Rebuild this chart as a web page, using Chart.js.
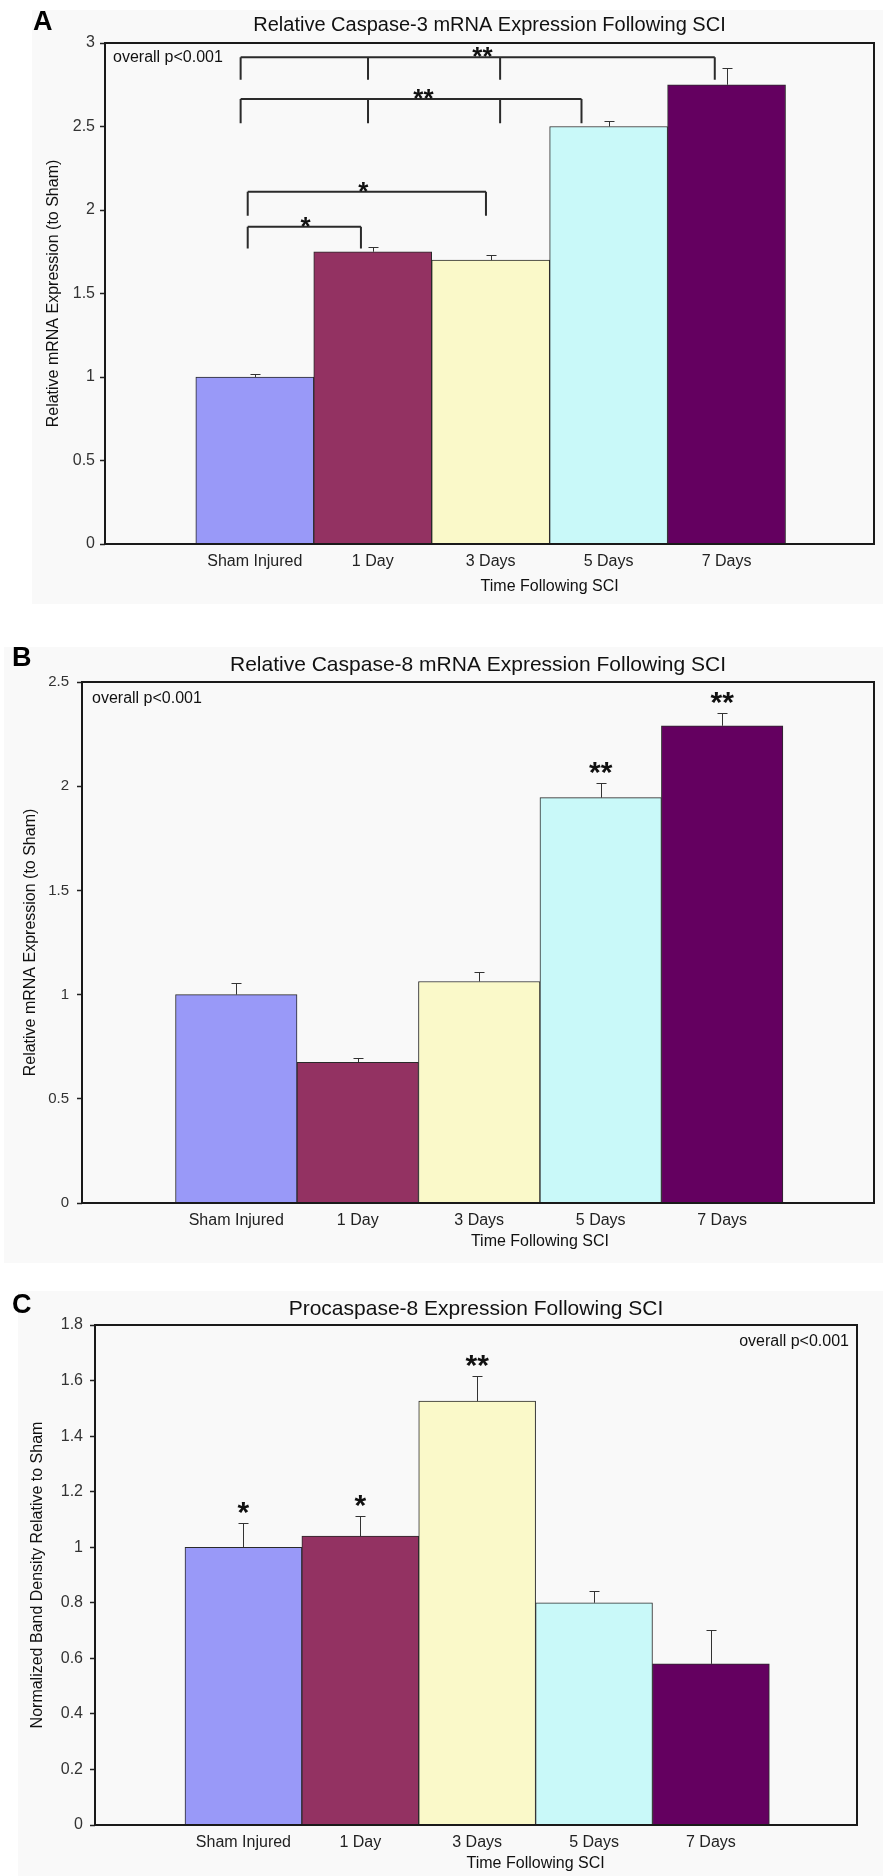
<!DOCTYPE html>
<html>
<head>
<meta charset="utf-8">
<script src="https://cdn.jsdelivr.net/npm/chart.js@4.4.1/dist/chart.umd.min.js"></script>
<style>
  body { margin: 0; background: #fff; width: 883px; height: 1876px; position: relative; overflow: hidden; }
  .panel { position: absolute; background: #f9f9f9; }
  .tag { position: absolute; font-family: "Liberation Sans", Arial, sans-serif; font-weight: bold; font-size: 27px; line-height: 1; color: #000; }
  canvas { position: absolute; left: 0; }
</style>
</head>
<body>
<div class="panel" style="left:32px;top:10px;width:851px;height:594px"></div>
<div class="panel" style="left:4px;top:647px;width:879px;height:616px"></div>
<div class="panel" style="left:18px;top:1291px;width:865px;height:585px"></div>

<canvas id="chartA" width="883" height="610" style="top:0px"></canvas>
<canvas id="chartB" width="883" height="650" style="top:615px"></canvas>
<canvas id="chartC" width="883" height="606" style="top:1270px"></canvas>

<div class="tag" style="left:33px;top:8px">A</div>
<div class="tag" style="left:12px;top:644px">B</div>
<div class="tag" style="left:12px;top:1291px">C</div>

<script>
const categories = ['Sham Injured', '1 Day', '3 Days', '5 Days', '7 Days'];

// A - relative caspase-3 mRNA
const casp3Mean = [1.00, 1.75, 1.70, 2.50, 2.75];
const casp3Err = [0.02, 0.03, 0.03, 0.035, 0.10];
const casp3Ticks = [0, 0.5, 1, 1.5, 2, 2.5, 3];
const casp3Sig = ['', '', '', '', ''];
// comparison brackets: stops on x (bar index units), bar level and foot level on y
const casp3Brackets = [
  { stops: [-0.12, 0.96, 2.08, 3.9], top: 2.915, foot: 2.78, mark: '**', markAt: 1.93 },
  { stops: [-0.12, 0.96, 2.08, 2.77], top: 2.665, foot: 2.52, mark: '**', markAt: 1.43 },
  { stops: [-0.06, 1.96], top: 2.11, foot: 1.965, mark: '*', markAt: 0.92 },
  { stops: [-0.06, 0.9], top: 1.90, foot: 1.77, mark: '*', markAt: 0.43 }
];

// B - relative caspase-8 mRNA
const casp8Mean = [1.00, 0.675, 1.063, 1.945, 2.29];
const casp8Err = [0.056, 0.022, 0.045, 0.072, 0.06];
const casp8Ticks = [0, 0.5, 1, 1.5, 2, 2.5];
const casp8Sig = ['', '', '', '**', '**'];

// C - procaspase-8 band density
const pro8Mean = [1.00, 1.04, 1.526, 0.80, 0.58];
const pro8Err = [0.087, 0.073, 0.092, 0.044, 0.122];
const pro8Ticks = [0, 0.2, 0.4, 0.6, 0.8, 1, 1.2, 1.4, 1.6, 1.8];
const pro8Sig = ['*', '*', '**', '', ''];

const barColors = ['#9999f8', '#933262', '#faf9c9', '#c9f9f9', '#640060'];
const FONT = '"Liberation Sans", Arial, sans-serif';

const extras = {
  id: 'extras',
  afterDatasetsDraw(chart, args, opts) {
    const {ctx, chartArea: area, scales: {x, y}} = chart;
    const bars = chart.getDatasetMeta(0).data;
    ctx.save();

    // error bars (upper only) and significance marks
    bars.forEach((bar, i) => {
      const top = Math.round(y.getPixelForValue(opts.means[i] + opts.errs[i])) + 0.5;
      const bx = Math.round(bar.x) + 0.5;
      ctx.strokeStyle = '#333';
      ctx.lineWidth = 1;
      ctx.beginPath();
      ctx.moveTo(bx, bar.y);
      ctx.lineTo(bx, top);
      ctx.moveTo(bx - 5, top);
      ctx.lineTo(bx + 5, top);
      ctx.stroke();
      if (opts.sig[i]) {
        ctx.fillStyle = '#111';
        ctx.font = 'bold ' + opts.starSize + 'px ' + FONT;
        ctx.textAlign = 'center';
        ctx.textBaseline = 'alphabetic';
        ctx.fillText(opts.sig[i], bar.x, top - 19 + 0.58 * opts.starSize);
      }
    });

    // comparison brackets
    (opts.brackets || []).forEach(b => {
      const yTop = y.getPixelForValue(b.top);
      const yFoot = y.getPixelForValue(b.foot);
      const xs = b.stops.map(v => x.getPixelForValue(v));
      ctx.strokeStyle = '#2b2b2b';
      ctx.lineWidth = 2;
      ctx.beginPath();
      ctx.moveTo(xs[0], yTop);
      ctx.lineTo(xs[xs.length - 1], yTop);
      xs.forEach(px => { ctx.moveTo(px, yTop); ctx.lineTo(px, yFoot); });
      ctx.stroke();
      ctx.fillStyle = '#111';
      ctx.font = 'bold ' + opts.starSize + 'px ' + FONT;
      ctx.textAlign = 'center';
      ctx.textBaseline = 'alphabetic';
      ctx.fillText(b.mark, x.getPixelForValue(b.markAt), yTop - 7 + 0.58 * opts.starSize);
    });

    // plot frame
    ctx.strokeStyle = '#1a1a1a';
    ctx.lineWidth = 2;
    ctx.strokeRect(area.left, area.top, area.right - area.left, area.bottom - area.top);

    // overall p note
    ctx.fillStyle = '#111';
    ctx.font = '16px ' + FONT;
    ctx.textBaseline = 'alphabetic';
    if (opts.noteRight) {
      ctx.textAlign = 'right';
      ctx.fillText('overall p<0.001', area.right - 8, area.top + 20.5);
    } else {
      ctx.textAlign = 'left';
      ctx.fillText('overall p<0.001', area.left + opts.noteLeft, area.top + opts.noteTop);
    }

    // x axis title, centred where the original sits
    ctx.textAlign = 'center';
    ctx.textBaseline = 'middle';
    ctx.fillText('Time Following SCI', x.getPixelForValue(2.5), area.bottom + opts.xTitleGap);
    ctx.restore();
  }
};

function build(id, cfg) {
  return new Chart(document.getElementById(id), {
    type: 'bar',
    data: {
      datasets: [{
        data: cfg.means.map((v, i) => ({x: i, y: v})),
        backgroundColor: barColors,
        borderColor: '#2a2a2a',
        borderWidth: 1,
        categoryPercentage: 1,
        barPercentage: 1
      }]
    },
    options: {
      responsive: false,
      animation: false,
      devicePixelRatio: 1,
      layout: {padding: {left: 0, right: cfg.padRight, top: 0, bottom: 0}},
      plugins: {
        legend: {display: false},
        tooltip: {enabled: false},
        title: {
          display: true,
          text: cfg.title,
          fullSize: false,
          color: '#111',
          font: {family: FONT, size: cfg.titleSize, weight: 'normal'},
          padding: {top: cfg.titleTop, bottom: cfg.titleBottom}
        },
        extras: {
          means: cfg.means, errs: cfg.errs, sig: cfg.sig, brackets: cfg.brackets,
          starSize: cfg.starSize, noteRight: cfg.noteRight, noteLeft: cfg.noteLeft,
          noteTop: cfg.noteTop, xTitleGap: cfg.xTitleGap
        }
      },
      scales: {
        x: {
          type: 'linear',
          offset: false,
          min: -1.27,
          max: 5.25,
          grid: {display: false, offset: false},
          border: {display: false},
          afterBuildTicks: s => { s.ticks = categories.map((c, i) => ({value: i})); },
          afterFit: s => { s.height = cfg.xHeight; },
          ticks: {
            autoSkip: false, maxRotation: 0, padding: 0, color: '#222',
            font: {family: FONT, size: 16},
            callback: v => categories[v]
          }
        },
        y: {
          min: 0,
          max: cfg.ticks[cfg.ticks.length - 1],
          afterBuildTicks: s => { s.ticks = cfg.ticks.map(v => ({value: v})); },
          afterFit: s => { s.width = cfg.yWidth; },
          grid: {drawOnChartArea: false, tickLength: 5, tickColor: '#222', tickWidth: 1.5},
          border: {display: false},
          ticks: {
            padding: cfg.tickPad, color: '#333',
            font: {family: FONT, size: cfg.tickSize},
            callback: v => String(v)
          },
          title: {
            display: true,
            text: cfg.yTitle,
            color: '#111',
            font: {family: FONT, size: 16},
            padding: {top: cfg.yTitlePad, bottom: 0}
          }
        }
      }
    },
    plugins: [extras]
  });
}

build('chartA', {
  title: 'Relative Caspase-3 mRNA Expression Following SCI', titleSize: 20, titleTop: 13.5, titleBottom: 5.5,
  yTitle: 'Relative mRNA Expression (to Sham)', yTitlePad: 44.4,
  means: casp3Mean, errs: casp3Err, ticks: casp3Ticks, sig: casp3Sig, brackets: casp3Brackets,
  yWidth: 105, xHeight: 66, padRight: 9, tickPad: 5, tickSize: 16, starSize: 26,
  noteLeft: 8, noteTop: 18.5, xTitleGap: 43
});

build('chartB', {
  title: 'Relative Caspase-8 mRNA Expression Following SCI', titleSize: 21, titleTop: 37.4, titleBottom: 4.4,
  yTitle: 'Relative mRNA Expression (to Sham)', yTitlePad: 21.4,
  means: casp8Mean, errs: casp8Err, ticks: casp8Ticks, sig: casp8Sig,
  yWidth: 82, xHeight: 62, padRight: 9, tickPad: 8, tickSize: 15, starSize: 30,
  noteLeft: 10, noteTop: 20.5, xTitleGap: 38.5
});

build('chartC', {
  title: 'Procaspase-8 Expression Following SCI', titleSize: 21, titleTop: 26.9, titleBottom: 2.9,
  yTitle: 'Normalized Band Density Relative to Sham', yTitlePad: 28.4,
  means: pro8Mean, errs: pro8Err, ticks: pro8Ticks, sig: pro8Sig,
  yWidth: 95, xHeight: 51, padRight: 26, tickPad: 7, tickSize: 16, starSize: 30,
  noteRight: true, xTitleGap: 39
});
</script>
</body>
</html>
